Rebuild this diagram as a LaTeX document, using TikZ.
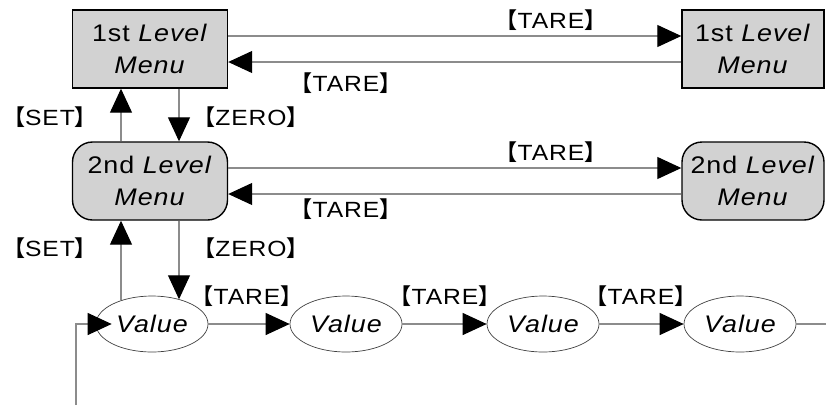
\documentclass[tikz,border=0pt]{standalone}
\usepackage{fontspec}
\setmainfont{Liberation Sans}[FakeStretch=1.12,LetterSpace=4]
\newfontfamily\cjk{Noto Sans CJK SC}[BoldFont={Noto Sans CJK SC Bold}]
\usetikzlibrary{arrows.meta,shapes.geometric}
\definecolor{boxfill}{HTML}{D2D2D2}
\definecolor{linegray}{HTML}{8C8C8C}
\newcommand{\keylab}[1]{{\cjk\bfseries\kern-0.4em【}#1{\cjk\bfseries】\kern-0.4em}}
\begin{document}
\begin{tikzpicture}[x=1pt,y=-1pt,
  menubox/.style={draw=black,line width=1.4pt,fill=boxfill,minimum width=155pt,minimum height=78pt,inner sep=0pt,align=center,font=\fontsize{24}{32}\selectfont},
  menuboxr/.style={menubox,minimum width=142pt},
  valnode/.style={ellipse,draw=black!75,line width=0.7pt,minimum width=112pt,minimum height=56pt,inner sep=0pt,font=\fontsize{24}{28}\selectfont\itshape},
  lab/.style={inner sep=0pt,font=\fontsize{22}{26}\selectfont},
  conn/.style={draw=linegray,line width=1.1pt,-{Triangle[length=24pt,width=22pt,color=black]}},
  plain/.style={draw=linegray,line width=1.1pt}]
\useasboundingbox (0,0) rectangle (826,405);
% boxes
\node[menubox] (b1) at (150,49) {1st \textit{Level}\\\textit{Menu}};
\node[menuboxr] (b1r) at (753,49) {1st \textit{Level}\\\textit{Menu}};
\node[menubox,rounded corners=20pt] (b2) at (150,181) {2nd \textit{Level}\\\textit{Menu}};
\node[menuboxr,rounded corners=20pt] (b2r) at (753,181) {2nd \textit{Level}\\\textit{Menu}};
% values
\node[valnode] (v1) at (152,324) {Value};
\node[valnode] (v2) at (346,324) {Value};
\node[valnode] (v3) at (543,324) {Value};
\node[valnode] (v4) at (740,324) {Value};
\coordinate (rowend) at (826,324);
\coordinate (fbstart) at (76,405);
\coordinate (fbtip) at ([xshift=16pt]v1.west);
% horizontal connectors, level 1
\draw[conn] ([yshift=13pt]b1.east) -- ([yshift=13pt]b1r.west);
\draw[conn] ([yshift=-13pt]b1r.west) -- ([yshift=-13pt]b1.east);
% level 2
\draw[conn] ([yshift=13pt]b2.east) -- ([yshift=13pt]b2r.west);
\draw[conn] ([yshift=-13pt]b2r.west) -- ([yshift=-13pt]b2.east);
% vertical
\draw[conn] ([xshift=-29pt]b2.north) -- ([xshift=-29pt]b1.south);
\draw[conn] ([xshift=29pt]b1.south) -- ([xshift=29pt]b2.north);
\draw[conn] ([xshift=-29pt]b2.south |- v1.143) -- ([xshift=-29pt]b2.south);
\draw[conn] ([xshift=29pt]b2.south) -- ([xshift=29pt]b2.south |- v1.42);
% value row
\draw[conn] (v1.east) -- (v2.west);
\draw[conn] (v2.east) -- (v3.west);
\draw[conn] (v3.east) -- (v4.west);
\draw[plain] (v4.east) -- (rowend);
\draw[conn] (fbstart) |- (fbtip);
% labels
\node[lab] (t1) at (551,20) {\keylab{TARE}};
\node[lab] (t2) at (346,83) {\keylab{TARE}};
\node[lab] (t3) at (551,152) {\keylab{TARE}};
\node[lab] (t4) at (346,209) {\keylab{TARE}};
\node[lab] (s1) at (50,117) {\keylab{SET}};
\node[lab] (z1) at (251,117) {\keylab{ZERO}};
\node[lab] (s2) at (50,248) {\keylab{SET}};
\node[lab] (z2) at (251,248) {\keylab{ZERO}};
\node[lab] (t5) at (247,296) {\keylab{TARE}};
\node[lab] (t6) at (445,296) {\keylab{TARE}};
\node[lab] (t7) at (641,296) {\keylab{TARE}};
\end{tikzpicture}
\end{document}
